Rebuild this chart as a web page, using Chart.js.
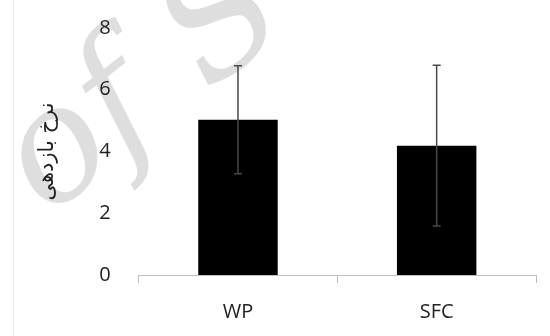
<!DOCTYPE html>
<html>
<head>
<meta charset="utf-8">
<script src="https://cdn.jsdelivr.net/npm/chart.js@4/dist/chart.umd.min.js"></script>
<style>
  html, body { margin: 0; padding: 0; background: #fff; }
  #wrap { position: relative; width: 550px; height: 336px; }
  #wrap::before { content: ''; position: absolute; left: 13px; top: 0; bottom: 0; border-left: 1px solid #ececec; }
</style>
</head>
<body>
<div id="wrap"><canvas id="chart" width="550" height="336"></canvas></div>
<script>
// values
const categories = ['WP', 'SFC'];
const means = [5.03, 4.19];
const errors = [1.75, 2.6];
const yTicks = [0, 2, 4, 6, 8];
const yTitle = 'نرخ بازدهی';
const watermark = 'of S';

// faint watermark behind the chart
const backdrop = {
  id: 'backdrop',
  beforeDraw(chart) {
    const { ctx } = chart;
    ctx.save();
    ctx.fillStyle = '#dedede';
    ctx.font = 'italic 158px "DejaVu Serif"';
    ctx.translate(58, 158);
    ctx.rotate(-0.66);
    ctx.fillText(watermark, -45, 40);
    ctx.restore();
  }
};

// error bars drawn on top of the bars
const errorBars = {
  id: 'errorBars',
  afterDatasetsDraw(chart) {
    const { ctx, scales: { y } } = chart;
    const meta = chart.getDatasetMeta(0);
    ctx.save();
    ctx.strokeStyle = '#484848';
    ctx.lineWidth = 1.5;
    meta.data.forEach((bar, i) => {
      const top = y.getPixelForValue(means[i] + errors[i]);
      const bot = y.getPixelForValue(means[i] - errors[i]);
      ctx.beginPath();
      ctx.moveTo(bar.x, top); ctx.lineTo(bar.x, bot);
      ctx.moveTo(bar.x - 4, top); ctx.lineTo(bar.x + 4, top);
      ctx.moveTo(bar.x - 4, bot); ctx.lineTo(bar.x + 4, bot);
      ctx.stroke();
    });
    ctx.restore();
  }
};

new Chart(document.getElementById('chart'), {
  type: 'bar',
  data: {
    labels: categories,
    datasets: [{ data: means, backgroundColor: '#000', borderWidth: 0, barPercentage: 0.4, categoryPercentage: 1 }]
  },
  options: {
    responsive: false,
    animation: false,
    layout: { padding: { left: 35, right: 14, top: -2, bottom: -5 } },
    plugins: { legend: { display: false }, tooltip: { enabled: false } },
    scales: {
      x: {
        grid: { display: true, offset: true, drawOnChartArea: false, color: '#c0c0c0', tickLength: 8 },
        border: { display: true, color: '#c0c0c0', width: 1 },
        ticks: { color: '#222', font: { family: 'Open Sans', size: 20 }, padding: 17 }
      },
      y: {
        min: 0, max: 8,
        afterBuildTicks: axis => { axis.ticks = yTicks.map(v => ({ value: v })); },
        grid: { display: false },
        border: { display: false },
        ticks: { color: '#222', font: { family: 'Open Sans', size: 20, lineHeight: 0.8 }, padding: 20 },
        title: { display: true, text: yTitle, color: '#222', font: { family: 'DejaVu Sans', size: 21 }, padding: { top: 0, bottom: 19 } }
      }
    }
  },
  plugins: [backdrop, errorBars]
});
</script>
</body>
</html>
